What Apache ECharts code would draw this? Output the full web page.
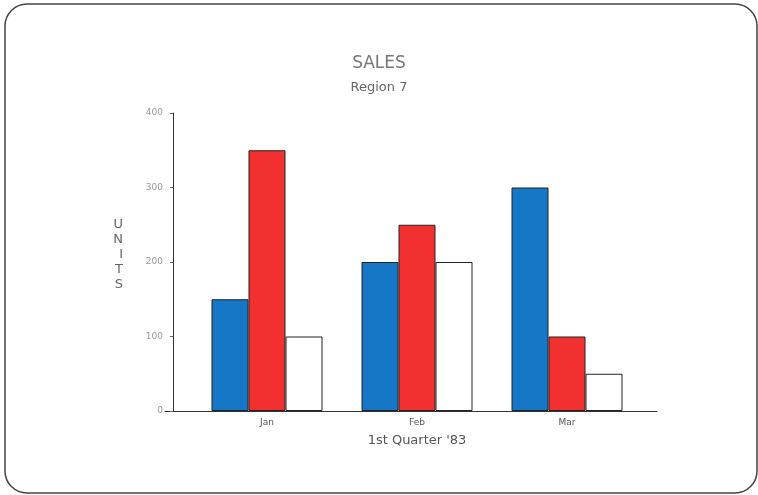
<!DOCTYPE html>
<html><head><meta charset="utf-8">
<script src="https://cdn.jsdelivr.net/npm/echarts@6/dist/echarts.min.js"></script>
<style>html,body{margin:0;padding:0;background:#fff}#c{width:758px;height:495px}</style>
</head><body><div id="c"></div>
<script>
var categories = ['Jan', 'Feb', 'Mar'];
var seriesA = [150, 200, 300];
var seriesB = [350, 250, 100];
var seriesC = [100, 200, 50];
var yTicks = [0, 100, 200, 300, 400];

var chart = echarts.init(document.getElementById('c'));
var font = 'DejaVu Sans';
var barStyle = function (color) {
  return { color: color, borderColor: '#222', borderWidth: 1 };
};
chart.setOption({
  backgroundColor: '#fff',
  animation: false,
  graphic: [{
    type: 'rect', shape: { x: 5, y: 4, width: 752, height: 489, r: 22 },
    style: { fill: 'none', stroke: '#444', lineWidth: 1.5 }, z: -1
  }],
  title: {
    text: 'SALES', subtext: 'Region 7', left: 'center', top: 50,
    itemGap: 9,
    textStyle: { fontFamily: font, fontSize: 17, fontWeight: 'normal', color: '#777' },
    subtextStyle: { fontFamily: font, fontSize: 13, color: '#666' }
  },
  grid: [
    { left: 192, right: 116, top: 113, bottom: 84 },
    { left: 165, right: 101, top: 113, bottom: 84 }
  ],
  xAxis: [{
    type: 'category', data: categories, gridIndex: 0,
    axisLine: { show: false }, axisTick: { show: false },
    axisLabel: { fontFamily: font, fontSize: 9, color: '#555', margin: 7 },
    name: "1st Quarter '83", nameLocation: 'middle', nameGap: 23,
    nameTextStyle: { fontFamily: font, fontSize: 13, color: '#555' }
  }, {
    type: 'value', gridIndex: 1, min: 0, max: 1,
    axisLine: { show: true, lineStyle: { color: '#333', width: 1 } },
    axisTick: { show: false }, axisLabel: { show: false }, splitLine: { show: false }
  }],
  yAxis: [{
    type: 'value', gridIndex: 0, min: yTicks[0], max: yTicks[yTicks.length - 1], interval: 100,
    offset: 19,
    axisLine: { show: true, lineStyle: { color: '#333', width: 1 } },
    axisTick: { show: true, length: 3, lineStyle: { color: '#666' } },
    splitLine: { show: false },
    axisLabel: { fontFamily: font, fontSize: 9, color: '#999', margin: 10 },
    name: 'U\nN\nI\nT\nS\n', nameLocation: 'middle', nameGap: 50, nameRotate: 0,
    nameTextStyle: { fontFamily: font, fontSize: 13, color: '#666', lineHeight: 15 }
  }, {
    type: 'value', gridIndex: 1, show: false, min: 0, max: 1
  }],
  series: [
    { type: 'bar', data: seriesA, barGap: '0%', barCategoryGap: '26%', itemStyle: barStyle('#1577c6') },
    { type: 'bar', data: seriesB, barGap: '0%', barCategoryGap: '26%', itemStyle: barStyle('#f2302f') },
    { type: 'bar', data: seriesC, barGap: '0%', barCategoryGap: '26%', itemStyle: barStyle('#ffffff') }
  ]
});
</script></body></html>
